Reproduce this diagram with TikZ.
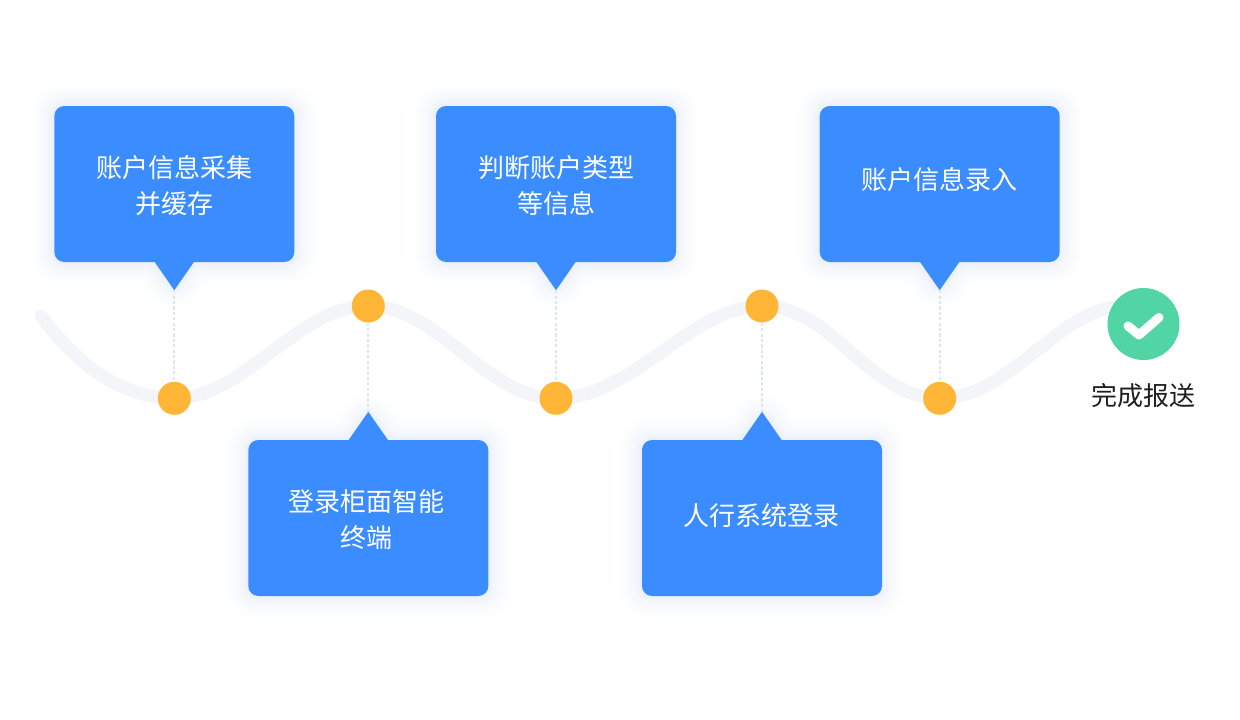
\documentclass[tikz,border=0pt]{standalone}
\usepackage{fontspec}
\setmainfont{Noto Sans CJK SC}
\usepackage{xcolor}
\usetikzlibrary{positioning,backgrounds}
\definecolor{boxblue}{HTML}{3B8DFF}
\definecolor{dotorange}{HTML}{FFB636}
\definecolor{donegreen}{HTML}{52D5A5}
\definecolor{wavegray}{HTML}{F3F5F9}
\definecolor{dashgray}{HTML}{DEE6EC}
\definecolor{shadowblue}{HTML}{3F6FC8}
\newcommand{\softshadow}[4]{%
  \foreach \w in {4,6,8,10,13,16,20,24,29,34,40,46}{
    \draw[shadowline,line width=\w pt] (#1.#3 west) -- ([xshift=-19.5pt]#1.#3) -- (#2) -- ([xshift=19.5pt]#1.#3) -- (#1.#3 east) -- (#1.#4 east) -- (#1.#4 west) -- cycle;
  }}
\begin{document}
\begin{tikzpicture}[x=1pt,y=-1pt,
    callout/.style = {fill=boxblue, rounded corners=10pt, minimum width=240pt, minimum height=156pt, inner sep=0pt},
    calltext/.style = {align=center, text=white, inner sep=0pt, font=\fontsize{26}{36}\selectfont},
    tipfill/.style = {fill=boxblue},
    main/.style = {circle, fill=dotorange, minimum size=33pt, inner sep=0pt},
    guide/.style = {draw=dashgray, line width=1.7pt, dash pattern=on 3.2pt off 2.2pt},
    shadowline/.style = {draw=shadowblue, opacity=.009, line join=round, rounded corners=10pt, yshift=-11pt}]
  \useasboundingbox (0,0) rectangle (1240,720);
  % dots and the end mark
  \node[main] (d1) at (174.3,398.3) {};
  \node[main] (d2) at (368.3,306) {};
  \node[main] (d3) at (556,398.3) {};
  \node[main] (d4) at (762,306) {};
  \node[main] (d5) at (939.7,398.3) {};
  \node[circle, fill=donegreen, minimum size=72pt, inner sep=0pt] (done) at (1143.5,324) {};
  \coordinate (w0) at (41,316);
  \coordinate (w1) at (1125,306);
  \draw[white, line width=9pt, line cap=round, line join=round]
    ([shift={(-15.5,2)}]done.center) -- ([shift={(-4.5,11)}]done.center) -- ([shift={(15.5,-6.5)}]done.center);
  \node[below=20pt of done, font=\fontsize{26}{36}\selectfont, text=black!88] (donetext) {完成报送};
  % callouts
  \node[callout] (b1) at (174.3,184) {};
  \node[callout] (b2) at (368.3,518) {};
  \node[callout] (b3) at (556,184) {};
  \node[callout] (b4) at (762,518) {};
  \node[callout] (b5) at (939.7,184) {};
  \node[calltext] (x1) at ([yshift=-2pt]b1.center) {账户信息采集\\并缓存};
  \node[calltext] (x2) at ([shift={(-2pt,-2pt)}]b2.center) {登录柜面智能\\终端};
  \node[calltext] (x3) at ([yshift=-2pt]b3.center) {判断账户类型\\等信息};
  \node[calltext] (x4) at ([shift={(-1pt,2pt)}]b4.center) {人行系统登录};
  \node[calltext] (x5) at ([yshift=4pt]b5.center) {账户信息录入};
  \coordinate[below=28pt of b1.south] (t1);
  \coordinate[above=28pt of b2.north] (t2);
  \coordinate[below=28pt of b3.south] (t3);
  \coordinate[above=28pt of b4.north] (t4);
  \coordinate[below=28pt of b5.south] (t5);
  \fill[tipfill] ([xshift=-19.5pt]b1.south) -- (t1) -- ([xshift=19.5pt]b1.south) -- cycle;
  \fill[tipfill] ([xshift=-19.5pt]b2.north) -- (t2) -- ([xshift=19.5pt]b2.north) -- cycle;
  \fill[tipfill] ([xshift=-19.5pt]b3.south) -- (t3) -- ([xshift=19.5pt]b3.south) -- cycle;
  \fill[tipfill] ([xshift=-19.5pt]b4.north) -- (t4) -- ([xshift=19.5pt]b4.north) -- cycle;
  \fill[tipfill] ([xshift=-19.5pt]b5.south) -- (t5) -- ([xshift=19.5pt]b5.south) -- cycle;
  \begin{scope}[on background layer]
    \softshadow{b1}{t1}{south}{north}
    \softshadow{b2}{t2}{north}{south}
    \softshadow{b3}{t3}{south}{north}
    \softshadow{b4}{t4}{north}{south}
    \softshadow{b5}{t5}{south}{north}
    \draw[wavegray, line width=13pt, line cap=round] (w0)
      .. controls (75,362) and (120,398.3) .. (d1.center)
      .. controls (245,398.3) and (297,306) .. (d2.center)
      .. controls (439,306) and (485,398.3) .. (d3.center)
      .. controls (633,398.3) and (691,306) .. (d4.center)
      .. controls (833,306) and (869,398.3) .. (d5.center)
      .. controls (1011,398.3) and (1060,306) .. (w1);
    % guides
    \draw[guide] (t1) -- (d1);
    \draw[guide] (d2) -- (t2);
    \draw[guide] (t3) -- (d3);
    \draw[guide] (d4) -- (t4);
    \draw[guide] (t5) -- (d5);
  \end{scope}
\end{tikzpicture}
\end{document}
